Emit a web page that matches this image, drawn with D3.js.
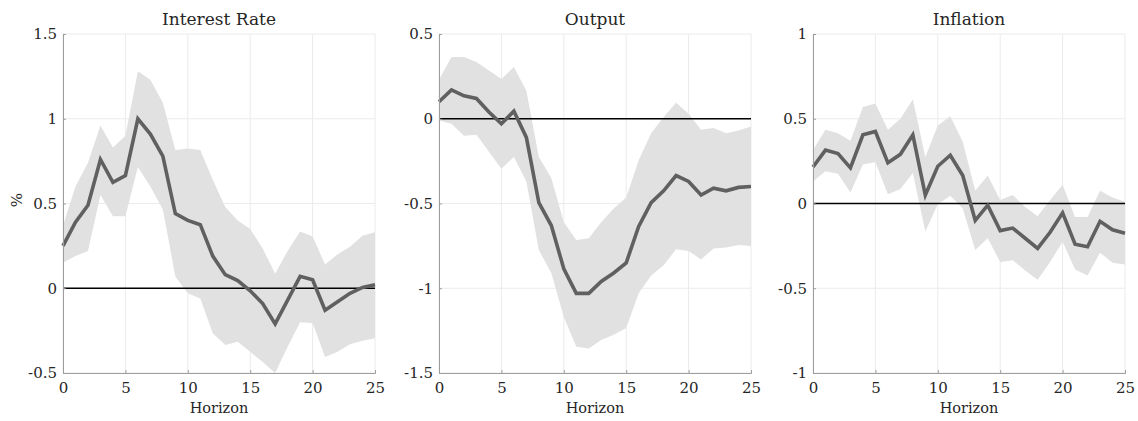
<!DOCTYPE html>
<html><head><meta charset="utf-8">
<script src="https://cdn.jsdelivr.net/npm/d3@7"></script>
<style>
html,body{margin:0;padding:0;background:#fff;}
svg text{font-family:"DejaVu Serif",serif;fill:#262626;}
</style></head>
<body><svg id="chart" width="1138" height="421"></svg>
<script>
const horizon = d3.range(0, 26);
const titles = ["Interest Rate", "Output", "Inflation"];
const yDomains = [[-0.5, 1.5], [-1.5, 0.5], [-1, 1]];
const yTicks = [[-0.5, 0, 0.5, 1, 1.5], [-1.5, -1, -0.5, 0, 0.5], [-1, -0.5, 0, 0.5, 1]];
const xTicks = [0, 5, 10, 15, 20, 25];

const rateMid = [0.25,0.39,0.49,0.76,0.625,0.665,1.0,0.91,0.78,0.44,0.40,0.375,0.19,0.08,0.045,-0.015,-0.09,-0.21,-0.07,0.07,0.05,-0.13,-0.08,-0.03,0.005,0.02];
const rateUp  = [0.37,0.60,0.74,0.96,0.83,0.90,1.28,1.23,1.095,0.815,0.825,0.815,0.64,0.48,0.40,0.35,0.235,0.085,0.22,0.335,0.305,0.14,0.20,0.245,0.31,0.33];
const rateLo  = [0.15,0.19,0.22,0.55,0.425,0.425,0.715,0.60,0.465,0.07,-0.03,-0.06,-0.265,-0.335,-0.315,-0.375,-0.435,-0.50,-0.345,-0.20,-0.205,-0.405,-0.375,-0.33,-0.31,-0.295];

const outMid = [0.10,0.17,0.135,0.12,0.04,-0.03,0.045,-0.11,-0.495,-0.63,-0.885,-1.03,-1.03,-0.96,-0.91,-0.85,-0.635,-0.495,-0.425,-0.335,-0.37,-0.45,-0.41,-0.425,-0.405,-0.40];
const outUp  = [0.23,0.365,0.365,0.335,0.285,0.235,0.305,0.165,-0.225,-0.35,-0.61,-0.715,-0.705,-0.61,-0.53,-0.465,-0.245,-0.085,0.01,0.095,0.03,-0.065,-0.055,-0.085,-0.07,-0.045];
const outLo  = [-0.01,-0.03,-0.10,-0.095,-0.195,-0.295,-0.225,-0.37,-0.775,-0.91,-1.17,-1.345,-1.355,-1.305,-1.275,-1.235,-1.03,-0.925,-0.865,-0.77,-0.78,-0.83,-0.765,-0.76,-0.745,-0.75];

const infMid = [0.215,0.315,0.295,0.21,0.405,0.425,0.24,0.29,0.405,0.05,0.22,0.285,0.165,-0.10,-0.01,-0.16,-0.145,-0.205,-0.265,-0.17,-0.055,-0.24,-0.255,-0.105,-0.155,-0.175];
const infUp  = [0.315,0.435,0.415,0.37,0.57,0.59,0.435,0.50,0.615,0.275,0.46,0.515,0.365,0.075,0.165,0.02,0.05,-0.02,-0.075,0.02,0.11,-0.08,-0.08,0.075,0.035,0.01];
const infLo  = [0.13,0.19,0.175,0.065,0.23,0.245,0.055,0.085,0.18,-0.165,-0.005,0.045,-0.03,-0.275,-0.205,-0.345,-0.335,-0.395,-0.45,-0.345,-0.225,-0.39,-0.425,-0.29,-0.35,-0.36];

const mids = [rateMid, outMid, infMid];
const ups = [rateUp, outUp, infUp];
const los = [rateLo, outLo, infLo];

const svg = d3.select("#chart");
const lefts = [63, 439, 813];
const W = 312, plotTop = 34, plotBottom = 373;
const fmt = v => String(v).replace("−", "-");

for (let p = 0; p < 3; p++) {
  const g = svg.append("g").attr("transform", `translate(${lefts[p]},0)`);
  const x = d3.scaleLinear().domain([0, 25]).range([0, W]);
  const y = d3.scaleLinear().domain(yDomains[p]).range([plotBottom, plotTop]);

  // grid
  g.append("g").selectAll("line").data(xTicks).join("line")
    .attr("x1", d => x(d)).attr("x2", d => x(d)).attr("y1", plotTop).attr("y2", plotBottom)
    .attr("stroke", "#ebebeb").attr("stroke-width", 1);
  g.append("g").selectAll("line").data(yTicks[p]).join("line")
    .attr("x1", 0).attr("x2", W).attr("y1", d => y(d)).attr("y2", d => y(d))
    .attr("stroke", "#ebebeb").attr("stroke-width", 1);

  // band
  const area = d3.area().x((d, i) => x(horizon[i])).y0((d, i) => y(los[p][i])).y1((d, i) => y(ups[p][i]));
  g.append("path").datum(horizon).attr("d", area).attr("fill", "#e1e1e1").attr("stroke", "none");

  // zero line
  g.append("line").attr("x1", x(0)).attr("x2", x(25)).attr("y1", y(0)).attr("y2", y(0))
    .attr("stroke", "#000").attr("stroke-width", 1.6);

  // main line
  const line = d3.line().x((d, i) => x(horizon[i])).y(d => y(d));
  g.append("path").datum(mids[p]).attr("d", line).attr("fill", "none")
    .attr("stroke", "#606060").attr("stroke-width", 3.6).attr("stroke-linejoin", "miter");

  // axes
  const xAxis = d3.axisBottom(x).tickValues(xTicks).tickSize(-3).tickPadding(9).tickFormat(d => d);
  const xg = g.append("g").attr("transform", `translate(0,${plotBottom})`).call(xAxis);
  const yAxis = d3.axisLeft(y).tickValues(yTicks[p]).tickSize(-3).tickPadding(6).tickFormat(d => fmt(d));
  const yg = g.append("g").call(yAxis);
  [xg, yg].forEach(a => {
    a.select(".domain").attr("stroke", "#9e9e9e").attr("stroke-width", 1);
    a.selectAll(".tick line").attr("stroke", "#9e9e9e");
    a.selectAll("text").attr("font-size", 15).attr("fill", "#262626")
      .style("font-family", '"DejaVu Serif",serif');
  });

  // title
  g.append("text").attr("x", W / 2).attr("y", 25).attr("text-anchor", "middle")
    .attr("font-size", 17).text(titles[p]);
  // x label
  g.append("text").attr("x", W / 2).attr("y", 413).attr("text-anchor", "middle")
    .attr("font-size", 14.5).text("Horizon");
}
// y label
svg.append("text").attr("transform", "translate(22,200) rotate(-90)")
  .attr("text-anchor", "middle").attr("font-size", 15).text("%");
</script></body></html>
